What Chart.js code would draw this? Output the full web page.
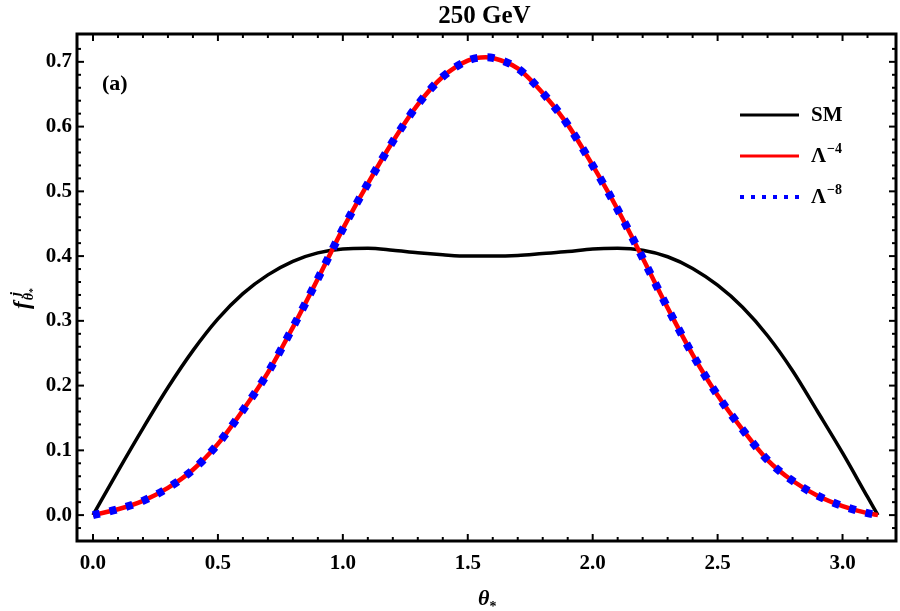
<!DOCTYPE html>
<html>
<head>
<meta charset="utf-8">
<script src="https://cdn.jsdelivr.net/npm/chart.js@4.4.1/dist/chart.umd.min.js"></script>
<style>
  html, body { margin: 0; padding: 0; background: #fff; }
  #wrap { width: 900px; height: 611px; }
</style>
</head>
<body>
<div id="wrap"><canvas id="chart" width="900" height="611"></canvas></div>
<script>
// theta_* grid (radians)
const thetas = [0, 0.1, 0.2, 0.3, 0.4, 0.5, 0.6, 0.7, 0.8, 0.9, 1.0, 1.1, 1.2, 1.3, 1.4, 1.5, 1.5708,
                1.6, 1.7, 1.8, 1.9, 2.0, 2.1, 2.2, 2.3, 2.4, 2.5, 2.6, 2.7, 2.8, 2.9, 3.0, 3.1, 3.1416];

const smVals = [0, 0.068, 0.134, 0.197, 0.254, 0.303, 0.342, 0.371, 0.392, 0.405, 0.411, 0.412, 0.409, 0.405, 0.402, 0.400, 0.400,
                0.400, 0.401, 0.404, 0.407, 0.411, 0.412, 0.409, 0.399, 0.381, 0.355, 0.321, 0.277, 0.223, 0.160, 0.096, 0.028, 0];

const lam4Vals = [0, 0.009, 0.022, 0.042, 0.070, 0.110, 0.162, 0.220, 0.290, 0.365, 0.442, 0.512, 0.577, 0.634, 0.677, 0.702, 0.707,
                  0.706, 0.690, 0.652, 0.603, 0.540, 0.472, 0.397, 0.320, 0.248, 0.185, 0.132, 0.085, 0.053, 0.030, 0.014, 0.003, 0];

const lam8Vals = [0, 0.009, 0.022, 0.042, 0.070, 0.110, 0.162, 0.220, 0.290, 0.365, 0.442, 0.512, 0.577, 0.634, 0.677, 0.702, 0.707,
                  0.706, 0.690, 0.652, 0.603, 0.540, 0.472, 0.397, 0.320, 0.248, 0.185, 0.132, 0.085, 0.053, 0.030, 0.014, 0.003, 0];

const xTicks = [0, 0.5, 1.0, 1.5, 2.0, 2.5, 3.0];
const yTicks = [0, 0.1, 0.2, 0.3, 0.4, 0.5, 0.6, 0.7];

// legend entries: base text + superscript
const legendItems = [
  { base: 'SM', sup: '' },
  { base: 'Λ', sup: '−4' },
  { base: 'Λ', sup: '−8' }
];

const SERIF = '"Liberation Serif", "DejaVu Serif", serif';

function pts(vals) {
  return thetas.map((t, i) => ({ x: t, y: vals[i] }));
}

// frame, inward ticks, title, axis titles, legend, panel tag
const decorations = {
  id: 'decorations',
  afterDraw(chart) {
    const ctx = chart.ctx;
    const a = chart.chartArea;
    const xs = chart.scales.x, ys = chart.scales.y;
    ctx.save();

    // ticks on all four sides
    ctx.strokeStyle = '#000';
    ctx.lineWidth = 2;
    const xMinor = [], yMinor = [];
    for (let v = 0; v <= 3.2; v += 0.1) xMinor.push(Math.round(v * 10) / 10);
    for (let v = -0.04; v <= 0.74; v += 0.02) yMinor.push(Math.round(v * 100) / 100);
    const tick = (x1, y1, x2, y2) => { ctx.beginPath(); ctx.moveTo(x1, y1); ctx.lineTo(x2, y2); ctx.stroke(); };
    xMinor.forEach(v => {
      const px = xs.getPixelForValue(v);
      if (px <= a.left + 1 || px >= a.right - 1) return;
      const major = xTicks.some(t => Math.abs(t - v) < 1e-6);
      const len = major ? 7 : 4;
      tick(px, a.bottom, px, a.bottom - len);
      tick(px, a.top, px, a.top + len);
    });
    yMinor.forEach(v => {
      const py = ys.getPixelForValue(v);
      if (py <= a.top + 1 || py >= a.bottom - 1) return;
      const major = yTicks.some(t => Math.abs(t - v) < 1e-6);
      const len = major ? 7 : 4;
      tick(a.left, py, a.left + len, py);
      tick(a.right, py, a.right - len, py);
    });

    // frame
    ctx.lineWidth = 3;
    ctx.strokeRect(a.left, a.top, a.right - a.left, a.bottom - a.top);

    // title
    ctx.fillStyle = '#000';
    ctx.textAlign = 'center';
    ctx.textBaseline = 'middle';
    ctx.font = 'bold 25px ' + SERIF;
    ctx.fillText('250 GeV', (a.left + a.right) / 2 - 2, 17);

    // panel tag
    ctx.textAlign = 'left';
    ctx.font = 'bold 22px ' + SERIF;
    ctx.fillText('(a)', 102, 84);

    // x title: theta_*
    ctx.textBaseline = 'alphabetic';
    ctx.font = 'italic bold 22px ' + SERIF;
    const tw = ctx.measureText('θ').width;
    const xt = 478;
    ctx.fillText('θ', xt, 605);
    ctx.font = 'bold 14px ' + SERIF;
    ctx.fillText('*', xt + tw, 611);

    // y title: f_{theta*}^{j}, rotated
    ctx.save();
    ctx.translate(29, 309);
    ctx.rotate(-Math.PI / 2);
    ctx.font = 'italic bold 23px ' + SERIF;
    ctx.fillText('f', 0, 0);
    const fw = ctx.measureText('f').width;
    ctx.font = 'italic bold 14px ' + SERIF;
    ctx.fillText('θ', fw + 1, 4);
    const thw = ctx.measureText('θ').width;
    ctx.font = 'bold 10px ' + SERIF;
    ctx.fillText('*', fw + 1 + thw, 7);
    ctx.font = 'italic bold 15px ' + SERIF;
    ctx.fillText('j', fw + 5, -9);
    ctx.restore();

    // legend
    const rows = [115, 156, 197];
    chart.data.datasets.forEach((ds, i) => {
      const y = rows[i];
      ctx.save();
      ctx.strokeStyle = ds.borderColor;
      ctx.lineWidth = i === 2 ? 4 : 3;
      ctx.setLineDash(i === 2 ? [4, 7] : []);
      tick(740, y, 799, y);
      ctx.restore();
      const it = legendItems[i];
      ctx.fillStyle = '#000';
      ctx.textBaseline = 'middle';
      ctx.font = 'bold 21px ' + SERIF;
      ctx.fillText(it.base, 811, y + 1);
      if (it.sup) {
        const bw = ctx.measureText(it.base).width;
        ctx.font = 'bold 14px ' + SERIF;
        ctx.fillText(it.sup, 811 + bw + 1, y - 7);
      }
    });

    ctx.restore();
  }
};

new Chart(document.getElementById('chart'), {
  type: 'line',
  data: {
    datasets: [
      { label: 'SM', data: pts(smVals), borderColor: '#000000', borderWidth: 3.5, order: 3 },
      { label: 'Λ^-4', data: pts(lam4Vals), borderColor: '#ff0000', borderWidth: 4.5, order: 2 },
      { label: 'Λ^-8', data: pts(lam8Vals), borderColor: '#0000ff', borderWidth: 8, borderDash: [7, 10], order: 1 }
    ]
  },
  options: {
    responsive: false,
    animation: false,
    layout: { padding: { left: 0, right: 4, top: 34, bottom: 0 } },
    elements: {
      point: { radius: 0 },
      line: { cubicInterpolationMode: 'monotone', borderCapStyle: 'butt' }
    },
    plugins: { legend: { display: false }, tooltip: { enabled: false }, title: { display: false } },
    scales: {
      x: {
        type: 'linear',
        min: -0.064,
        max: 3.214,
        afterBuildTicks: s => { s.ticks = xTicks.map(v => ({ value: v })); },
        afterFit: s => { s.height = 70; },
        grid: { display: false, drawTicks: false },
        border: { display: false },
        ticks: {
          padding: 10,
          color: '#000',
          font: { family: SERIF, size: 21, weight: 'bold' },
          callback: v => Number(v).toFixed(1)
        }
      },
      y: {
        type: 'linear',
        min: -0.04,
        max: 0.743,
        afterBuildTicks: s => { s.ticks = yTicks.map(v => ({ value: v })); },
        afterFit: s => { s.width = 77; },
        grid: { display: false, drawTicks: false },
        border: { display: false },
        ticks: {
          padding: 5,
          color: '#000',
          font: { family: SERIF, size: 21, weight: 'bold' },
          callback: v => Number(v).toFixed(1)
        }
      }
    }
  },
  plugins: [decorations]
});
</script>
</body>
</html>
